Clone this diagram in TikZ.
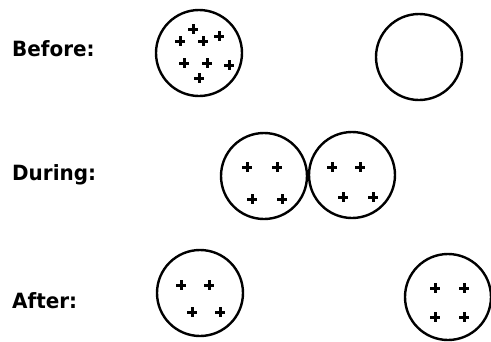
\documentclass[tikz,border=0pt]{standalone}
\usepackage{fontspec}
\newfontfamily\labelfont{DejaVu Sans Bold}
\begin{document}
\begin{tikzpicture}[x=1pt,y=-1pt,
  cell/.style={circle,draw=black,line width=2.4pt,minimum size=86pt,inner sep=0pt},
  stage/.style={anchor=base west,inner sep=0pt,font=\labelfont\fontsize{21}{24}\selectfont,xscale=0.95},
  charge/.pic={\draw[line width=3pt] (-5,0)--(5,0) (0,-5)--(0,5);}]
\useasboundingbox (0,0) rectangle (491,341);

% row labels
\node[stage] (tb) at (12,56) {Before:};
\node[stage] (td) at (12,180) {During:};
\node[stage] (ta) at (12,308) {After:};

% before: one charged sphere, one neutral sphere
\node[cell] (b1) at (199,53) {};
\node[cell] (b2) at (419,57) {};
\foreach \p in {(180,41),(193,29),(203,41),(219,36),(184,63),(207,63),(199,78),(229,65)}
  \pic at \p {charge};

% during: spheres in contact
\node[cell] (d1) at (264,176) {};
\node[cell] (d2) at (352,175) {};
\foreach \p in {(247,167),(277,167),(252,199),(282,199),(332,167),(360,167),(343,197),(373,197)}
  \pic at \p {charge};

% after: charge shared equally
\node[cell] (a1) at (200,293) {};
\node[cell] (a2) at (448,297) {};
\foreach \p in {(181,285),(209,285),(192,312),(220,312),(435,288),(464,288),(435,317),(464,317)}
  \pic at \p {charge};
\end{tikzpicture}
\end{document}
